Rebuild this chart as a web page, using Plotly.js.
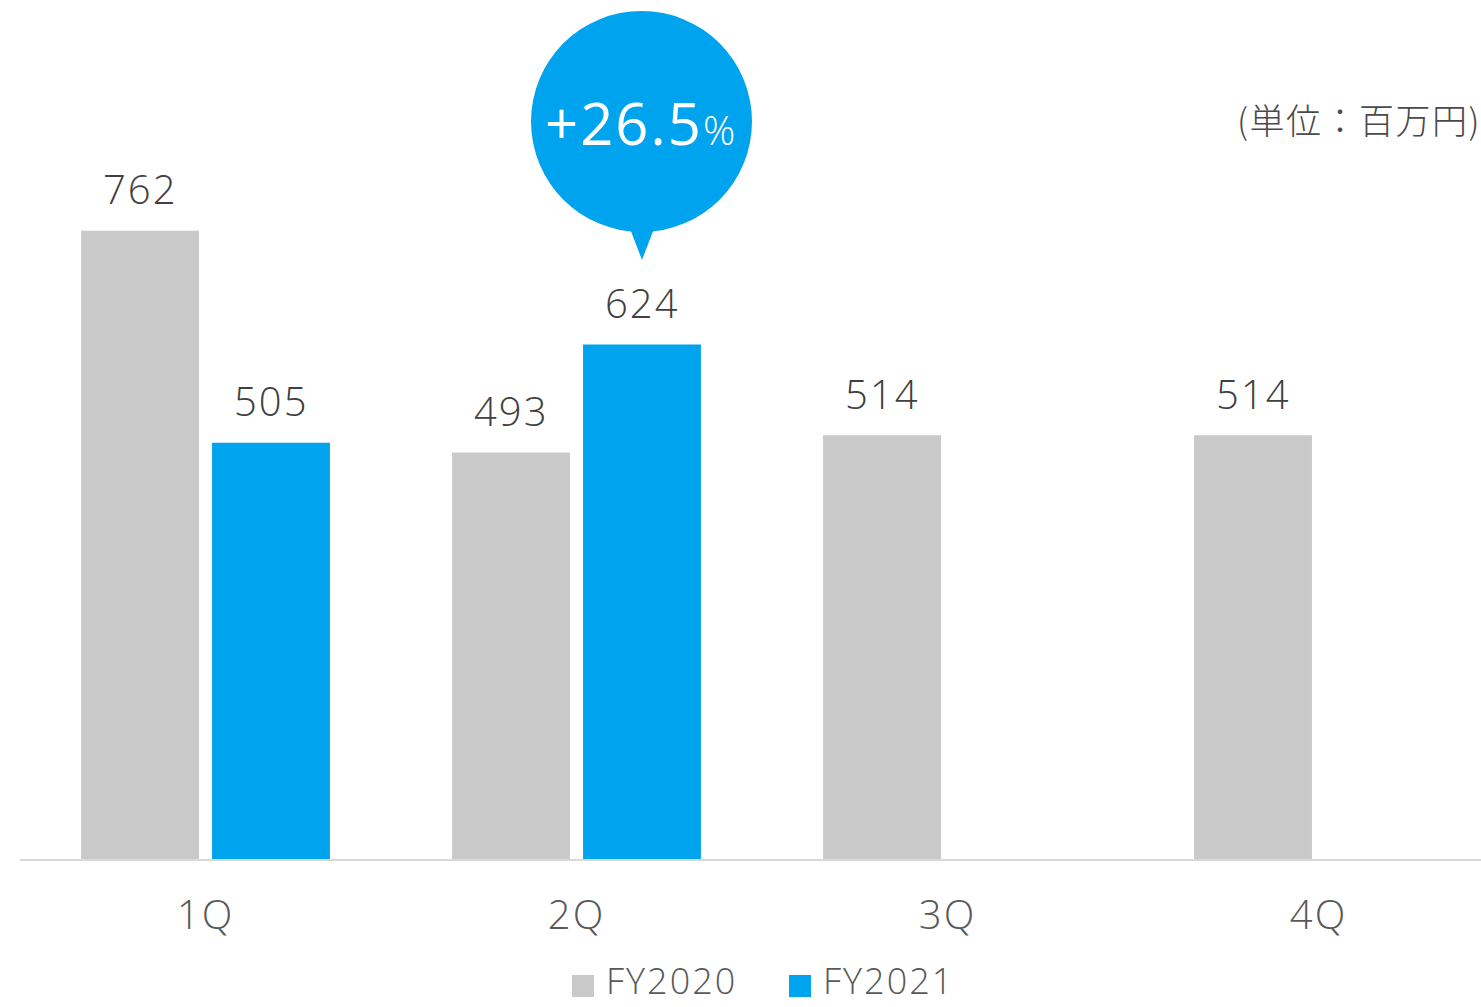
<!DOCTYPE html>
<html>
<head>
<meta charset="utf-8">
<script src="https://cdn.plot.ly/plotly-3.0.1.min.js"></script>
<style>
html,body{margin:0;padding:0;background:#fff;}
#chart{width:1481px;height:1007px;}
.valtxt text, .xtick text {letter-spacing:2px;}
.unittxt text {letter-spacing:1.5px;}
</style>
</head>
<body>
<div id="chart"></div>
<script>
const quarters = ['1Q', '2Q', '3Q', '4Q'];
const seriesNames = ['FY2020', 'FY2021'];
const fy2020 = [762, 493, 514, 514];
const fy2021 = [505, 624, null, null];
const growthText = '+26.5';
const growthUnit = '%';
const unitText = '(単位：百万円)';

const grayColor = '#c9c9c9';
const blueColor = '#00a3ee';
const fontFamily = '"Open Sans", "Noto Sans CJK JP", sans-serif';
const colors = [grayColor, blueColor];

const traces = [
  {type: 'bar', name: seriesNames[0], x: quarters, y: fy2020, marker: {color: grayColor}, hoverinfo: 'none', showlegend: false},
  {type: 'bar', name: seriesNames[1], x: quarters, y: fy2021, marker: {color: blueColor}, hoverinfo: 'none', showlegend: false}
];

const px = v => (v - 20) / 1461;
const py = v => (859 - v) / 859;

const annotations = [];
const offsets = [-65.5, 65.5];
[fy2020, fy2021].forEach((vals, si) => {
  vals.forEach((v, i) => {
    if (v === null) return;
    annotations.push({
      xref: 'x', yref: 'y', x: quarters[i], y: v,
      text: String(v), showarrow: false,
      xshift: offsets[si], yshift: 42, yanchor: 'middle',
      font: {family: fontFamily, size: 40, color: '#404040', weight: 300}
    });
  });
});

// growth bubble text
annotations.push({
  xref: 'paper', yref: 'paper', x: px(641), y: py(122),
  xanchor: 'center', yanchor: 'middle', showarrow: false,
  text: growthText + '<span style="font-size:40px;font-weight:300">' + growthUnit + '</span>',
  font: {family: fontFamily, size: 58, color: '#ffffff', weight: 400}
});
// unit label
annotations.push({
  xref: 'paper', yref: 'paper', x: px(1241), y: py(118),
  xanchor: 'left', yanchor: 'middle', showarrow: false,
  text: unitText,
  font: {family: '"Noto Sans CJK JP", sans-serif', size: 35, color: '#4a4a4a', weight: 300}
});

const shapes = [
  {type: 'circle', xref: 'paper', yref: 'paper', x0: px(531), x1: px(752), y0: py(232), y1: py(11),
   fillcolor: blueColor, line: {width: 0}, layer: 'above'},
  {type: 'path', xref: 'paper', yref: 'paper',
   path: `M ${px(629)},${py(226)} L ${px(655)},${py(226)} L ${px(642)},${py(260)} Z`,
   fillcolor: blueColor, line: {width: 0}, layer: 'above'}
];

// hand-built legend (squares + names)
const legendX = [572, 789];
seriesNames.forEach((name, i) => {
  shapes.push({type: 'rect', xref: 'paper', yref: 'paper',
    x0: px(legendX[i]), x1: px(legendX[i] + 22), y0: py(997), y1: py(975),
    fillcolor: colors[i], line: {width: 0}});
  annotations.push({xref: 'paper', yref: 'paper', x: px(legendX[i] + 38), y: py(980),
    xanchor: 'left', yanchor: 'middle', showarrow: false, text: name,
    font: {family: fontFamily, size: 36, color: '#595959', weight: 300}});
});

const layout = {
  width: 1481, height: 1007,
  margin: {l: 20, r: 0, t: 0, b: 148, pad: 0},
  paper_bgcolor: '#ffffff', plot_bgcolor: '#ffffff',
  barmode: 'group', bargap: 0.294, bargroupgap: 0.1,
  showlegend: false,
  xaxis: {type: 'category', range: [-0.5, 3.438], showgrid: false, zeroline: false,
    showline: true, linecolor: '#d9d9d9', linewidth: 2,
    ticks: 'outside', ticklen: 20, tickcolor: 'rgba(0,0,0,0)',
    tickfont: {family: fontFamily, size: 40, color: '#595959', weight: 300}, fixedrange: true},
  yaxis: {range: [0, 1042], visible: false, showgrid: false, zeroline: false, fixedrange: true},
  annotations: annotations,
  shapes: shapes,
  font: {family: fontFamily}
};

Plotly.newPlot('chart', traces, layout, {displayModeBar: false, staticPlot: true}).then(() => {
  const anns = document.querySelectorAll('.annotation');
  anns.forEach(a => a.classList.add('valtxt'));
  anns.forEach(a => {
    if (a.textContent.indexOf('単位') >= 0) { a.classList.remove('valtxt'); a.classList.add('unittxt'); }
  });
});
</script>
</body>
</html>
